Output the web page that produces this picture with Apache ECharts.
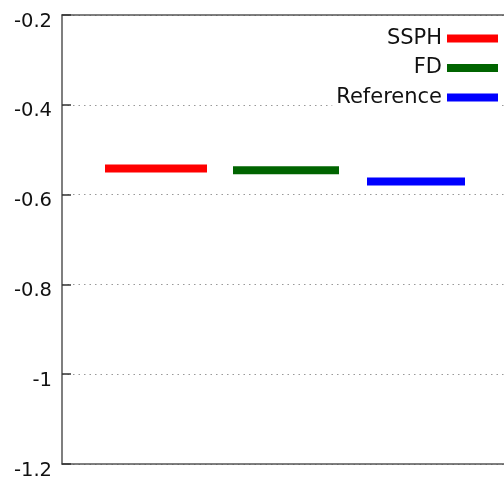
<!DOCTYPE html>
<html>
<head>
<meta charset="utf-8">
<script src="https://cdn.jsdelivr.net/npm/echarts@6/dist/echarts.min.js"></script>
<style>
  html, body { margin: 0; padding: 0; background: #fff; }
  #chart { width: 504px; height: 481px; }
</style>
</head>
<body>
<div id="chart"></div>
<script>
// Series names and colours
const seriesNames = ['SSPH', 'FD', 'Reference'];
const seriesColors = ['#ff0000', '#006400', '#0000ff'];
// Horizontal extent of each segment (x units) and its level
const segStart = [43, 171, 305];
const segEnd = [145, 277, 403];
const segValue = [-0.542, -0.546, -0.571];
// Y axis ticks
const yMin = -1.2, yMax = -0.2, yStep = 0.2;

const chart = echarts.init(document.getElementById('chart'), null, { renderer: 'canvas' });

const series = seriesNames.map((name, i) => ({
  name: name,
  type: 'line',
  symbol: 'none',
  silent: true,
  animation: false,
  data: [[segStart[i], segValue[i]], [segEnd[i], segValue[i]]],
  lineStyle: { color: seriesColors[i], width: 8, cap: 'butt' },
  itemStyle: { color: seriesColors[i] }
}));

const frameLine = { show: true, lineStyle: { color: '#555', width: 1.5 } };

chart.setOption({
  backgroundColor: '#fff',
  animation: false,
  grid: { left: 62, top: 15, bottom: 17, right: 0, show: false },
  legend: {
    orient: 'vertical',
    right: 6, top: 28,
    align: 'right',
    itemWidth: 51, itemHeight: 8,
    itemGap: 8.5,
    icon: 'rect',
    backgroundColor: '#fff',
    padding: [0, 0, 0, 4],
    textStyle: { fontFamily: 'DejaVu Sans', fontSize: 21, color: '#111', lineHeight: 20 },
    data: seriesNames
  },
  xAxis: [
    {
      type: 'value', min: 0, max: 442, position: 'bottom',
      axisLine: frameLine, axisTick: { show: false },
      axisLabel: { show: false }, splitLine: { show: false }
    },
    {
      type: 'value', min: 0, max: 442, position: 'top',
      axisLine: frameLine, axisTick: { show: false },
      axisLabel: { show: false }, splitLine: { show: false }
    }
  ],
  yAxis: {
    type: 'value', min: yMin, max: yMax, interval: yStep,
    axisLine: frameLine,
    axisTick: { show: true, inside: true, length: 9, lineStyle: { color: '#333', width: 1.5 } },
    axisLabel: {
      color: '#111', margin: 10,
      formatter: v => '{t|' + String(Math.round(v * 10) / 10) + '}',
      rich: {
        t: { fontFamily: 'DejaVu Sans', fontSize: 19.5, color: '#111', padding: [13, 0, 0, 0] }
      }
    },
    splitLine: { show: true, lineStyle: { color: '#999', width: 1, type: [1.5, 4] } }
  },
  series: series
});
</script>
</body>
</html>
